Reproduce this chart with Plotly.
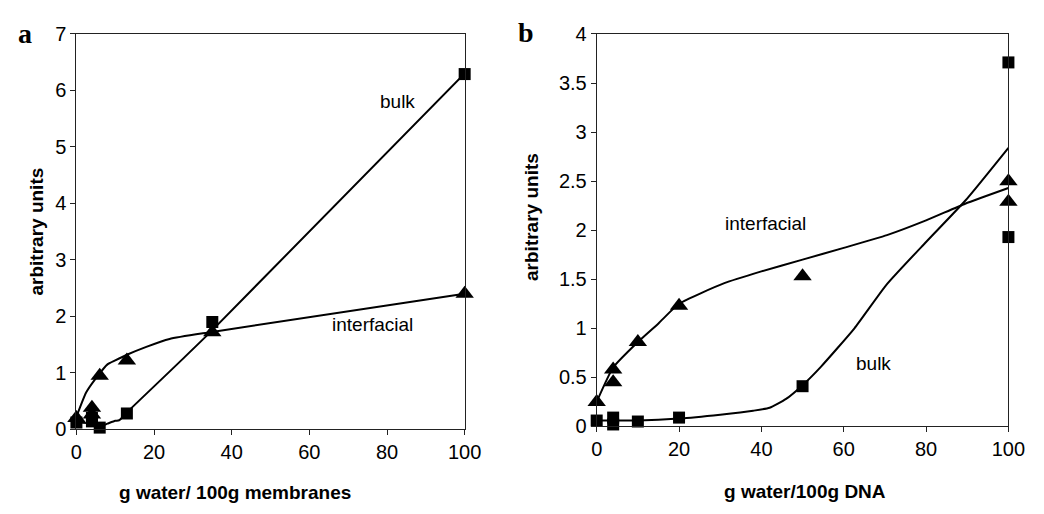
import plotly.graph_objects as go

# ---------------- Panel a (membranes) ----------------
a_tri_x = [0, 4, 4, 6, 13, 35, 100]
a_tri_y = [0.2, 0.38, 0.26, 0.95, 1.22, 1.72, 2.4]
a_sq_x = [0, 4, 4, 6, 13, 35, 100]
a_sq_y = [0.12, 0.2, 0.14, 0.03, 0.28, 1.9, 6.29]
a_int_curve_x = [0, 2.5, 5, 8, 10, 13, 18, 24, 34.5, 100]
a_int_curve_y = [0.22, 0.65, 0.9, 1.15, 1.22, 1.32, 1.46, 1.6, 1.72, 2.4]
a_bulk_curve_x = [0, 4, 6, 8, 10, 11, 13, 20, 27, 34.5, 100]
a_bulk_curve_y = [0.12, 0.1, 0.05, 0.1, 0.15, 0.16, 0.3, 0.76, 1.22, 1.72, 6.3]

# ---------------- Panel b (DNA) ----------------
b_tri_x = [0, 4, 4, 10, 20, 50, 100, 100]
b_tri_y = [0.25, 0.58, 0.45, 0.86, 1.23, 1.53, 2.5, 2.29]
b_sq_x = [0, 4, 4, 10, 20, 50, 100, 100]
b_sq_y = [0.06, 0.09, 0.02, 0.05, 0.09, 0.41, 3.71, 1.93]
b_int_curve_x = [0, 4, 10, 15, 20, 31, 40, 50, 60, 70.5, 80, 89.5, 100]
b_int_curve_y = [0.25, 0.6, 0.86, 1.05, 1.25, 1.46, 1.58, 1.7, 1.82, 1.95, 2.1, 2.27, 2.43]
b_bulk_curve_x = [0, 10, 20, 30, 38, 42, 46, 50, 54.5, 62.6, 70.5, 80, 89.5, 100]
b_bulk_curve_y = [0.06, 0.06, 0.08, 0.12, 0.16, 0.19, 0.28, 0.42, 0.61, 1.0, 1.45, 1.88, 2.3, 2.84]

x_ticks = [0, 20, 40, 60, 80, 100]
a_y_ticks = [0, 1, 2, 3, 4, 5, 6, 7]
b_y_ticks = [0, 0.5, 1, 1.5, 2, 2.5, 3, 3.5, 4]
b_y_ticklabels = ["0", "0.5", "1", "1.5", "2", "2.5", "3", "3.5", "4"]

W, H = 1044, 514
FONT = "Liberation Sans, Arial, sans-serif"

fig = go.Figure()

def add_panel(xa, ya, cx1, cy1, cx2, cy2, tx, ty, sx, sy):
    fig.add_trace(go.Scatter(x=cx1, y=cy1, mode="lines", xaxis=xa, yaxis=ya,
                             line=dict(color="black", width=2, shape="spline", smoothing=0.5),
                             showlegend=False, hoverinfo="skip"))
    fig.add_trace(go.Scatter(x=cx2, y=cy2, mode="lines", xaxis=xa, yaxis=ya,
                             line=dict(color="black", width=2, shape="spline", smoothing=0.5),
                             showlegend=False, hoverinfo="skip"))
    fig.add_trace(go.Scatter(x=tx, y=ty, mode="markers", xaxis=xa, yaxis=ya,
                             marker=dict(symbol="triangle-up", size=16, color="black"),
                             cliponaxis=False, showlegend=False))
    fig.add_trace(go.Scatter(x=sx, y=sy, mode="markers", xaxis=xa, yaxis=ya,
                             marker=dict(symbol="square", size=12, color="black"),
                             cliponaxis=False, showlegend=False))

add_panel("x", "y", a_int_curve_x, a_int_curve_y, a_bulk_curve_x, a_bulk_curve_y,
          a_tri_x, a_tri_y, a_sq_x, a_sq_y)
add_panel("x2", "y2", b_int_curve_x, b_int_curve_y, b_bulk_curve_x, b_bulk_curve_y,
          b_tri_x, b_tri_y, b_sq_x, b_sq_y)

axis_common = dict(showgrid=False, zeroline=False, showline=True, linecolor="#222",
                   linewidth=1, mirror=True, ticks="outside", ticklen=5, tickcolor="#222",
                   tickfont=dict(family=FONT, size=20, color="black"))

top = 1 - 24 / H
fig.update_layout(
    width=W, height=H, margin=dict(l=0, r=0, t=0, b=0),
    paper_bgcolor="white", plot_bgcolor="white",
    xaxis=dict(domain=[72 / W, 469 / W], range=[0, 100], tickvals=x_ticks, anchor="y", **axis_common),
    yaxis=dict(domain=[1 - 437 / H, top], range=[0, 7], tickvals=a_y_ticks, anchor="x", **axis_common),
    xaxis2=dict(domain=[604 / W, 1025 / W], range=[0, 100], tickvals=x_ticks, anchor="y2", **axis_common),
    yaxis2=dict(domain=[1 - 434 / H, top], range=[0, 4], tickvals=b_y_ticks, ticktext=b_y_ticklabels,
                anchor="x2", **axis_common),
)

anns = []
lab_font = dict(family=FONT, size=19, color="black")
anns.append(dict(x=82.6, y=5.8, xref="x", yref="y", text="bulk", showarrow=False, font=lab_font))
anns.append(dict(x=76.3, y=1.85, xref="x", yref="y", text="interfacial", showarrow=False, font=lab_font))
anns.append(dict(x=41.1, y=2.07, xref="x2", yref="y2", text="interfacial", showarrow=False, font=lab_font))
anns.append(dict(x=67.2, y=0.64, xref="x2", yref="y2", text="bulk", showarrow=False, font=lab_font))

title_font = dict(family=FONT, size=19, color="black")
anns.append(dict(x=234 / W, y=1 - 503 / H, xref="paper", yref="paper", text="<b>g water/ 100g membranes</b>",
                 showarrow=False, font=title_font, xanchor="center", yanchor="middle"))
anns.append(dict(x=817 / W, y=1 - 502 / H, xref="paper", yref="paper", text="<b>g water/100g DNA</b>",
                 showarrow=False, font=title_font, xanchor="center", yanchor="middle"))
anns.append(dict(x=31 / W, y=1 - 230 / H, xref="paper", yref="paper", text="<b>arbitrary units</b>",
                 showarrow=False, font=title_font, textangle=-90, xanchor="center", yanchor="middle"))
anns.append(dict(x=538 / W, y=1 - 215 / H, xref="paper", yref="paper", text="<b>arbitrary units</b>",
                 showarrow=False, font=title_font, textangle=-90, xanchor="center", yanchor="middle"))

letter_font = dict(family="Liberation Serif, Times New Roman, serif", size=28, color="black")
anns.append(dict(x=19 / W, y=1 - 23 / H, xref="paper", yref="paper", text="<b>a</b>",
                 showarrow=False, font=letter_font, xanchor="center", yanchor="middle"))
anns.append(dict(x=532 / W, y=1 - 22 / H, xref="paper", yref="paper", text="<b>b</b>",
                 showarrow=False, font=letter_font, xanchor="center", yanchor="middle"))

fig.update_layout(annotations=anns)
fig.write_html("out.html")
